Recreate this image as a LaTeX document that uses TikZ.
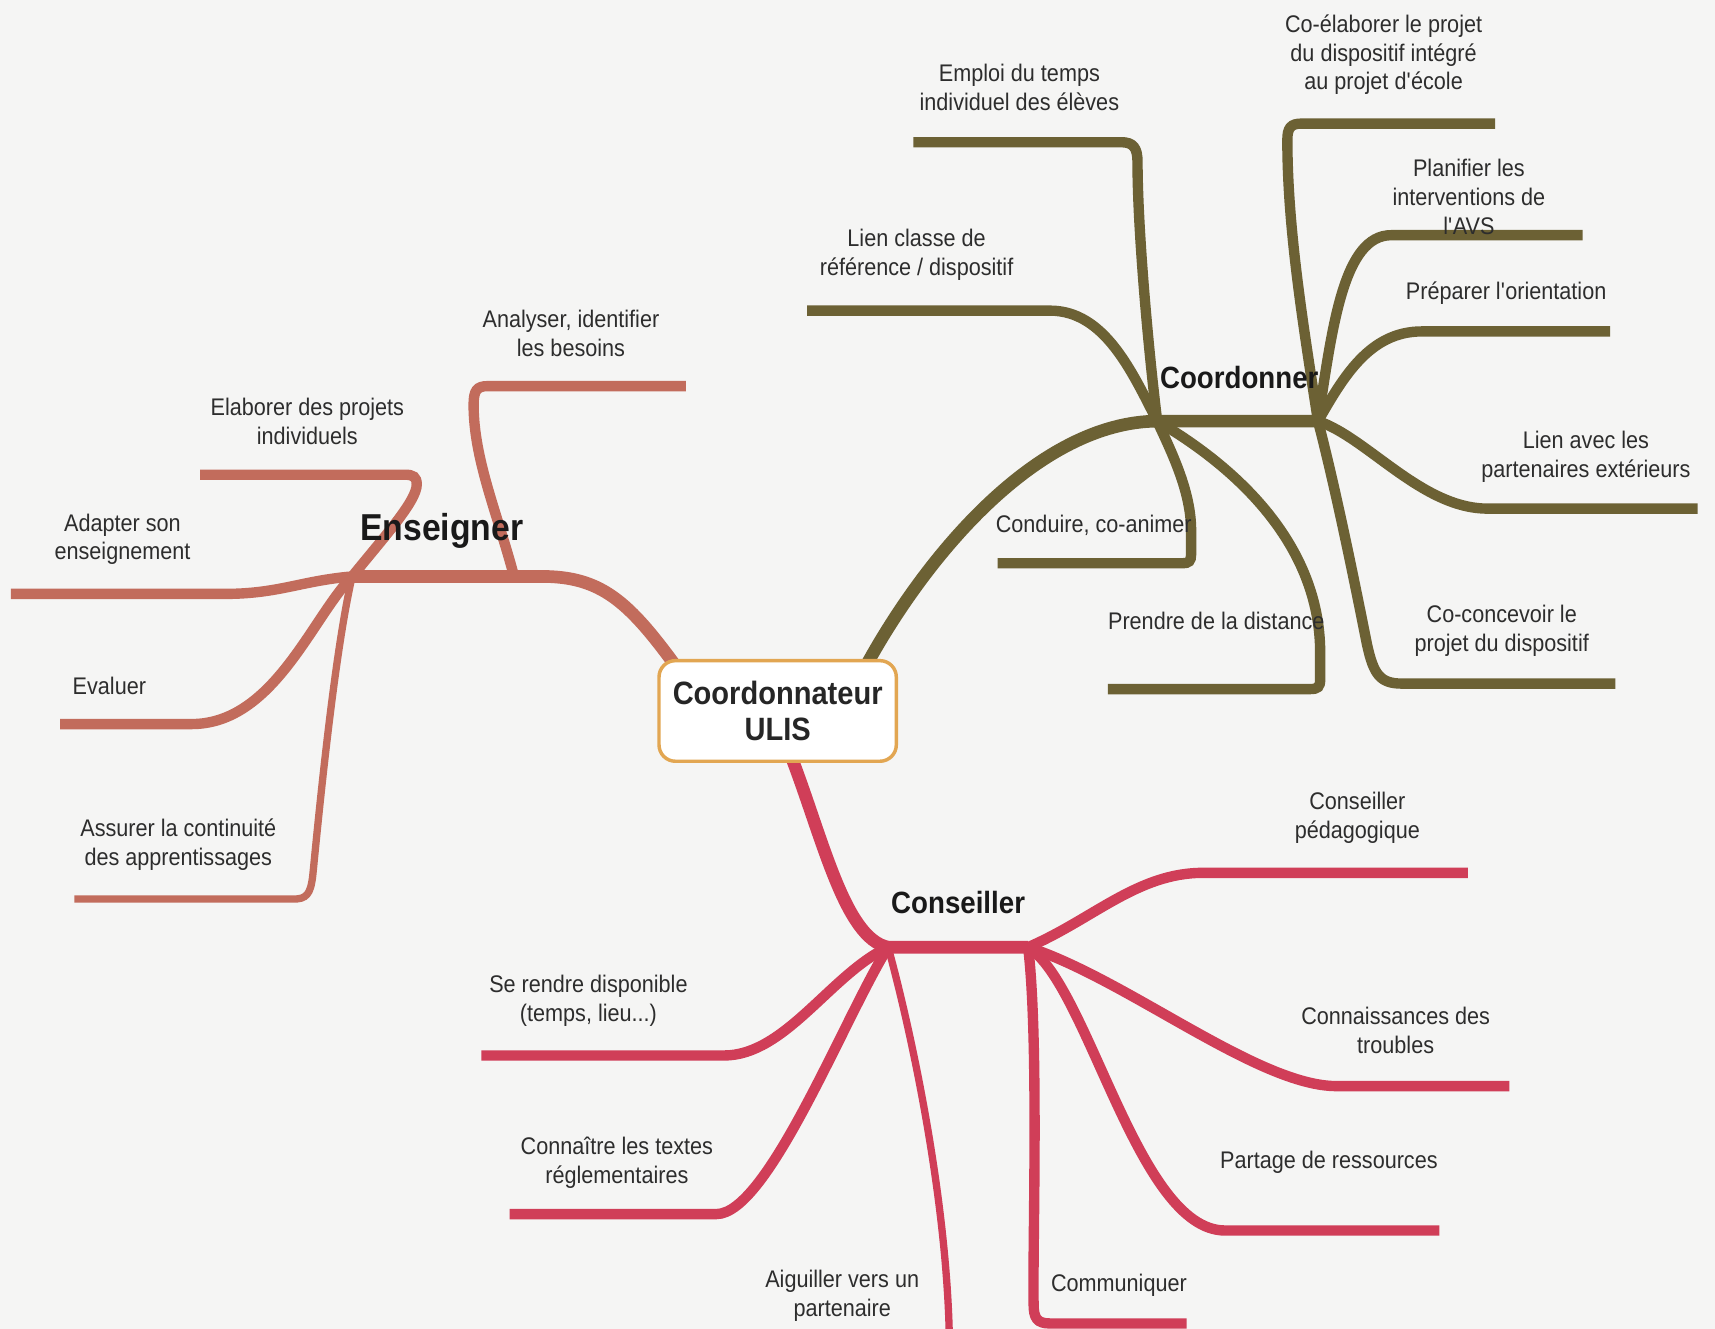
\documentclass[tikz,border=0pt]{standalone}
\usepackage{fontspec}
\setmainfont{Liberation Sans}[FakeStretch=0.9]
\usetikzlibrary{backgrounds}
\definecolor{enscol}{RGB}{194,108,92}
\definecolor{coocol}{RGB}{108,97,52}
\definecolor{concol}{RGB}{208,62,88}
\definecolor{boxcol}{RGB}{226,166,82}
\definecolor{txtcol}{RGB}{45,45,45}
\definecolor{papercol}{RGB}{245,245,244}

\begin{document}
\begin{tikzpicture}[x=0.02cm, y=-0.02cm,
  leaf/.style={font=\fontsize{12.5}{15}\selectfont, text=txtcol, align=center, inner sep=0pt},
  head/.style={font=\fontsize{16}{19}\selectfont\bfseries, text=black!90, inner sep=0pt},
  centre/.style={draw=boxcol, line width=1.8pt, fill=white, rounded corners=0.3cm, minimum width=4.34cm, minimum height=1.84cm, align=center, font=\fontsize{16.8}{19}\selectfont\bfseries, text=black!85},
  branch/.style={line width=5.4pt},
  trunk/.style={line width=6.6pt},
  slim/.style={line width=3.8pt}
]

\useasboundingbox (0,0) rectangle (1568,1215);

\node[centre] (ulis) at (711,650) {Coordonnateur\\ULIS};

\node[head, font=\fontsize{19.5}{22}\selectfont\bfseries] (enseigner) at (404,485) {Enseigner};
\node[head] (coordonner) at (1133,345) {Coordonner};
\node[head] (conseiller) at (876,825) {Conseiller};

\node[leaf] (adapter) at (112,493) {Adapter son\\enseignement};
\node[leaf] (elaborer) at (281,385) {Elaborer des projets\\individuels};
\node[leaf] (analyser) at (522,305) {Analyser, identifier\\les besoins};
\node[leaf] (evaluer) at (100,627) {Evaluer};
\node[leaf] (assurer) at (163,772) {Assurer la continuité\\des apprentissages};

\node[leaf] (emploi) at (932,80) {Emploi du temps\\individuel des élèves};
\node[leaf] (lienclasse) at (838,233) {Lien classe de\\référence / dispositif};
\node[leaf] (conduire) at (1000,480) {Conduire, co-animer};
\node[leaf] (prendre) at (1112,568) {Prendre de la distance};
\node[leaf] (coelab) at (1265,50) {Co-élaborer le projet\\du dispositif intégré\\au projet d\textquotesingle école};
\node[leaf] (planifier) at (1343,180) {Planifier les\\interventions de\\l\textquotesingle AVS};
\node[leaf] (preparer) at (1377,268) {Préparer l\textquotesingle orientation};
\node[leaf] (partenaires) at (1450,418) {Lien avec les\\partenaires extérieurs};
\node[leaf] (coconc) at (1373,577) {Co-concevoir le\\projet du dispositif};

\node[leaf] (rendre) at (538,915) {Se rendre disponible\\(temps, lieu...)};
\node[leaf] (textes) at (564,1063) {Connaître les textes\\réglementaires};
\node[leaf] (aiguiller) at (770,1185) {Aiguiller vers un\\partenaire};
\node[leaf] (pedago) at (1241,748) {Conseiller\\pédagogique};
\node[leaf] (troubles) at (1276,942) {Connaissances des\\troubles};
\node[leaf] (partage) at (1215,1063) {Partage de ressources};
\node[leaf] (communiquer) at (1023,1175) {Communiquer};

\coordinate (ensIn) at (620,612);
\coordinate (ensFork) at (470,527);
\coordinate (ensHub) at (322,527);
\coordinate (adaptEnd) at (10,543);
\coordinate (elabEnd) at (183,434);
\coordinate (analEnd) at (627,353);
\coordinate (evalEnd) at (55,662);
\coordinate (assEnd) at (68,822);

\coordinate (cooIn) at (790,612);
\coordinate (cooHubA) at (1058,385);
\coordinate (cooHubB) at (1205,385);
\coordinate (emploiEnd) at (835,130);
\coordinate (lienEnd) at (738,284);
\coordinate (conduireEnd) at (912,515);
\coordinate (prendreEnd) at (1013,630);
\coordinate (coelabEnd) at (1367,113);
\coordinate (planifEnd) at (1447,215);
\coordinate (prepEnd) at (1472,303);
\coordinate (partenEnd) at (1552,465);
\coordinate (coconcEnd) at (1477,625);

\coordinate (conIn) at (722,688);
\coordinate (conHubA) at (812,866);
\coordinate (conHubB) at (940,866);
\coordinate (rendreEnd) at (440,965);
\coordinate (textesEnd) at (466,1110);
\coordinate (aiguilEnd) at (868,1225);
\coordinate (pedaEnd) at (1342,798);
\coordinate (troublesEnd) at (1380,993);
\coordinate (partageEnd) at (1316,1125);
\coordinate (commEnd) at (1085,1210);

\begin{scope}[on background layer]
\fill[papercol] (0,0) rectangle (1568,1215);

\draw[enscol, trunk] (ensIn) .. controls (575,550) and (550,527) .. (495,527) -- (ensFork) -- (ensHub);
\draw[enscol, branch] (ensHub) .. controls (275,531) and (255,543) .. (205,543) -- (adaptEnd);
\draw[enscol, branch] (ensHub) .. controls (352,490) and (381,458) .. (381,443) .. controls (381,436) and (378,434) .. (370,434) -- (elabEnd);
\draw[enscol, branch] (ensFork) .. controls (455,470) and (433,420) .. (433,370) .. controls (433,357) and (436,353) .. (446,353) -- (analEnd);
\draw[enscol, branch] (ensHub) .. controls (285,565) and (250,662) .. (175,662) -- (evalEnd);
\draw[enscol, slim] (ensHub) .. controls (305,600) and (290,760) .. (286,800) .. controls (284,818) and (280,822) .. (268,822) -- (assEnd);

\draw[coocol, trunk] (cooIn) .. controls (848,505) and (950,386) .. (cooHubA) -- (cooHubB);
\draw[coocol, branch] (cooHubA) .. controls (1050,320) and (1040,210) .. (1040,148) .. controls (1040,135) and (1036,130) .. (1025,130) -- (emploiEnd);
\draw[coocol, branch] (cooHubA) .. controls (1035,340) and (1010,284) .. (960,284) -- (lienEnd);
\draw[coocol, branch] (cooHubA) .. controls (1072,415) and (1089,450) .. (1089,485) -- (1089,507) .. controls (1089,513) and (1087,515) .. (1081,515) -- (conduireEnd);
\draw[coocol, branch] (cooHubA) .. controls (1135,430) and (1206,500) .. (1207,595) -- (1207,621) .. controls (1207,628) and (1205,630) .. (1198,630) -- (prendreEnd);
\draw[coocol, branch] (cooHubB) .. controls (1192,300) and (1177,210) .. (1177,128) .. controls (1177,117) and (1180,113) .. (1190,113) -- (coelabEnd);
\draw[coocol, branch] (cooHubB) .. controls (1218,300) and (1228,215) .. (1272,215) -- (planifEnd);
\draw[coocol, branch] (cooHubB) .. controls (1228,345) and (1252,303) .. (1300,303) -- (prepEnd);
\draw[coocol, branch] (cooHubB) .. controls (1250,400) and (1300,465) .. (1360,465) -- (partenEnd);
\draw[coocol, branch] (cooHubB) .. controls (1222,450) and (1240,540) .. (1250,590) .. controls (1256,617) and (1262,625) .. (1282,625) -- (coconcEnd);

\draw[concol, trunk] (conIn) .. controls (752,765) and (772,858) .. (conHubA) -- (conHubB);
\draw[concol, branch] (conHubA) .. controls (760,890) and (718,965) .. (662,965) -- (rendreEnd);
\draw[concol, branch] (conHubA) .. controls (772,930) and (702,1110) .. (655,1110) -- (textesEnd);
\draw[concol, slim] (conHubA) .. controls (835,950) and (866,1100) .. (aiguilEnd);
\draw[concol, branch] (conHubB) .. controls (1000,840) and (1040,798) .. (1100,798) -- (pedaEnd);
\draw[concol, branch] (conHubB) .. controls (1030,895) and (1150,993) .. (1222,993) -- (troublesEnd);
\draw[concol, branch] (conHubB) .. controls (995,900) and (1040,1125) .. (1120,1125) -- (partageEnd);
\draw[concol, branch] (conHubB) .. controls (950,950) and (944,1140) .. (945,1192) .. controls (945,1205) and (948,1210) .. (960,1210) -- (commEnd);
\end{scope}

\end{tikzpicture}
\end{document}
